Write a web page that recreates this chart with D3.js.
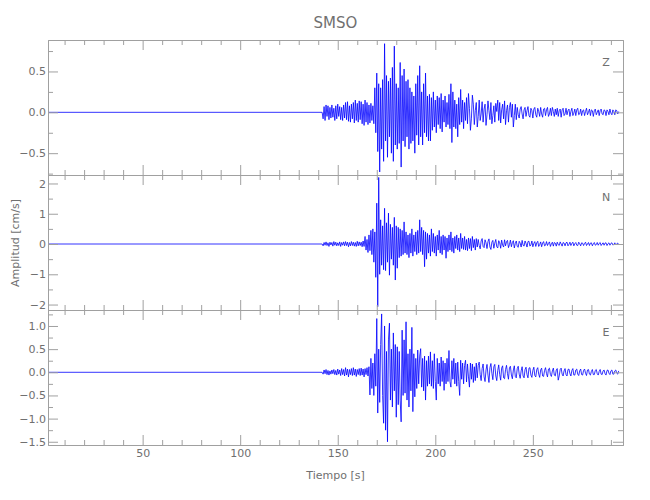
<!DOCTYPE html>
<html><head><meta charset="utf-8">
<script src="https://cdn.jsdelivr.net/npm/d3@7"></script>
<style>body{margin:0;background:#fff} text{font-family:"DejaVu Sans",sans-serif}</style>
</head><body><svg id="chart" width="650" height="500"></svg>
<script>
// ---------------- data ----------------
const chartTitle = "SMSO";
const xTitle = "Tiempo [s]";
const yTitle = "Amplitud [cm/s]";
const componentNames = ["Z", "N", "E"];
const recordStart = 1.5, recordEnd = 296.2;
const sampleStart = 142, sampleStep = 0.5;   // s
const preEventLevel = 0;

const xMajorTicks = [50, 100, 150, 200, 250];
const xMinorTicks = [10, 20, 30, 40, 60, 70, 80, 90, 110, 120, 130, 140, 160, 170, 180, 190, 210, 220, 230, 240, 260, 270, 280, 290];

const zDomain = [-0.767, 0.885];
const zMajorTicks = [-0.5, 0, 0.5];
const zTickLabels = ["\u22120.5", "0.0", "0.5"];
const zMinorTicks = [-0.75, -0.25, 0.25, 0.75];

const nDomain = [-2.18, 2.28];
const nMajorTicks = [-2, -1, 0, 1, 2];
const nTickLabels = ["\u22122", "\u22121", "0", "1", "2"];
const nMinorTicks = [-1.5, -0.5, 0.5, 1.5];

const eDomain = [-1.57, 1.345];
const eMajorTicks = [-1.5, -1, -0.5, 0, 0.5, 1];
const eTickLabels = ["\u22121.5", "\u22121.0", "\u22120.5", "0.0", "0.5", "1.0"];
const eMinorTicks = [-1.25, -0.75, -0.25, 0.25, 0.75, 1.25];

// velocity samples (cm/s), every 0.5 s from 142 s
const zValues = [
 0.00,-0.08,0.07,-0.10,0.09,-0.05,0.08,-0.09,0.06,-0.07,
 0.09,-0.06,0.05,-0.10,0.08,-0.08,0.10,-0.05,0.07,-0.09,
 0.06,-0.10,0.09,-0.07,0.12,-0.09,0.13,-0.11,0.08,-0.12,
 0.10,-0.08,0.12,-0.13,0.15,-0.10,0.11,-0.12,0.14,-0.09,
 0.13,-0.14,0.10,-0.16,0.15,-0.12,0.12,-0.15,0.09,-0.13,
 0.11,-0.10,0.08,-0.14,0.30,-0.25,0.48,-0.48,0.35,-0.73,
 0.30,-0.45,0.40,-0.60,0.84,-0.35,0.45,-0.55,0.38,-0.30,
 0.42,-0.50,0.55,-0.60,0.81,-0.40,0.35,-0.45,0.30,-0.38,
 0.61,-0.67,0.45,-0.35,0.53,-0.42,0.38,-0.30,0.40,-0.45,
 0.30,-0.38,0.25,-0.35,0.20,-0.50,0.35,-0.28,0.45,-0.40,
 0.57,-0.30,0.25,-0.40,0.35,-0.25,0.48,-0.30,0.20,-0.35,
 0.22,-0.35,0.18,-0.22,0.25,-0.18,0.15,-0.25,0.20,-0.15,
 0.18,-0.20,0.23,-0.24,0.15,-0.12,0.20,-0.18,0.12,-0.15,
 0.22,-0.20,0.35,-0.37,0.25,-0.18,0.15,-0.20,0.10,-0.30,
 0.18,-0.15,0.28,-0.12,0.15,-0.20,0.12,-0.10,0.18,-0.14,
 0.23,0.05,-0.22,-0.08,0.21,0.10,-0.15,0.02,0.12,-0.18,
 -0.05,0.15,-0.10,-0.02,0.13,-0.12,0.04,0.10,-0.16,-0.03,
 0.14,0.02,-0.09,0.12,-0.14,-0.04,0.08,-0.12,0.11,0.01,
 0.15,-0.10,0.12,-0.13,0.03,0.10,-0.08,0.14,-0.15,0.02,
 0.09,-0.12,0.06,0.12,-0.06,0.10,-0.18,-0.04,0.10,-0.09,
 0.06,-0.03,-0.07,0.04,0.07,-0.02,-0.08,0.03,0.06,-0.05,
 0.02,0.07,-0.04,-0.06,0.05,0.02,-0.07,0.04,0.06,-0.03,
 -0.06,0.05,0.01,-0.05,0.06,-0.02,-0.06,0.04,0.05,-0.04,
 0.03,0.06,-0.05,-0.02,0.05,-0.04,0.06,0.01,-0.05,0.04,
 -0.03,0.05,-0.05,0.02,0.04,-0.06,0.03,0.05,-0.04,-0.02,
 0.05,-0.03,0.02,0.04,-0.05,0.01,0.05,-0.04,-0.01,0.04,
 -0.04,0.03,0.05,-0.03,-0.02,0.04,-0.04,0.02,0.03,-0.04,
 0.01,0.05,-0.03,0.00,0.04,-0.04,0.03,0.02,-0.05,0.02,
 0.04,-0.03,0.00,0.03,-0.04,0.02,0.04,-0.02,-0.03,0.03,
 0.02,-0.04,0.03,0.01,-0.03,0.04,-0.01,-0.03,0.03,0.01,
 -0.03,0.03,0.02,-0.02,0.01
];
const nValues = [
 0.00,-0.06,0.05,-0.04,0.07,-0.05,0.04,-0.08,0.06,-0.03,
 0.05,-0.07,0.08,-0.04,0.06,-0.06,0.04,-0.05,0.07,-0.08,
 0.05,-0.04,0.07,-0.06,0.08,-0.05,0.06,-0.09,0.05,-0.06,
 0.08,-0.05,0.06,-0.07,0.05,-0.08,0.09,-0.06,0.07,-0.05,
 0.06,-0.09,0.10,-0.08,0.25,-0.20,0.15,-0.28,0.30,-0.22,
 0.45,-0.35,0.50,-0.60,0.40,-1.10,1.35,-2.07,2.20,-1.00,
 0.80,-0.70,0.60,-0.85,1.18,-0.88,0.70,-0.60,1.02,-1.03,
 0.65,-0.50,0.55,-0.70,0.88,-1.19,0.60,-0.80,0.55,-0.45,
 0.50,-0.40,0.45,-0.35,0.73,-0.30,0.40,-0.35,0.30,-0.45,
 0.35,-0.30,0.50,-0.40,0.30,-0.25,0.40,-0.35,0.45,-0.30,
 0.80,-0.25,0.55,-0.35,0.45,-0.75,0.40,-0.50,0.35,-0.30,
 0.30,-0.40,0.50,-0.25,0.35,-0.30,0.25,-0.40,0.30,-0.20,
 0.45,-0.30,0.25,-0.35,0.30,-0.20,0.25,-0.47,0.20,-0.25,
 0.30,-0.20,0.40,-0.25,0.20,-0.30,0.25,-0.15,0.30,-0.20,
 0.20,-0.25,0.35,-0.15,0.20,-0.18,0.25,-0.20,0.15,-0.22,
 0.20,-0.15,0.18,-0.22,0.25,-0.12,0.15,-0.20,0.18,-0.10,
 0.15,-0.05,-0.16,0.10,0.18,-0.08,-0.12,0.14,0.04,-0.15,
 0.08,0.17,-0.10,-0.18,0.06,0.12,-0.14,0.03,0.15,-0.09,
 -0.13,0.11,0.04,-0.14,0.13,-0.03,-0.10,0.14,-0.06,0.08,
 0.12,-0.12,-0.02,0.13,-0.09,0.05,0.11,-0.13,0.02,0.10,
 -0.08,-0.11,0.09,0.03,-0.10,0.12,-0.04,-0.07,0.10,0.02,
 -0.10,0.08,0.09,-0.07,-0.03,0.10,-0.09,0.02,0.08,-0.08,
 0.04,0.09,-0.08,-0.02,0.07,-0.09,0.03,0.08,-0.06,-0.04,
 0.08,-0.05,0.02,0.07,-0.08,0.01,0.06,-0.07,0.05,0.03,
 -0.07,0.06,-0.02,-0.05,0.07,0.00,-0.07,0.05,0.03,-0.06,
 0.04,0.06,-0.06,-0.01,0.06,-0.05,0.02,0.06,-0.06,0.01,
 0.05,-0.04,-0.05,0.06,0.01,-0.06,0.04,0.03,-0.05,0.02,
 0.06,-0.05,0.00,0.05,-0.05,0.03,0.04,-0.06,0.01,0.05,
 -0.04,-0.02,0.05,-0.04,0.02,0.05,-0.05,0.00,0.04,-0.04,
 0.03,0.04,-0.05,0.01,0.04,-0.04,0.02,0.04,-0.03,-0.02,
 0.04,-0.03,0.01,0.03,-0.02
];
const eValues = [
 0.00,-0.04,0.05,-0.03,0.06,-0.05,0.04,-0.06,0.03,-0.04,
 0.05,-0.03,0.06,-0.05,0.04,-0.06,0.07,-0.04,0.05,-0.07,
 0.08,-0.05,0.06,-0.08,0.10,-0.06,0.07,-0.10,0.06,-0.05,
 0.08,-0.07,0.10,-0.06,0.07,-0.09,0.06,-0.05,0.08,-0.07,
 0.09,-0.06,0.07,-0.10,0.08,-0.05,0.10,-0.08,0.12,-0.49,
 0.30,-0.35,0.20,-0.50,0.40,-0.30,1.16,-0.88,0.50,-0.65,
 0.60,1.26,-0.50,-1.10,1.00,-1.25,0.45,-1.50,0.70,1.06,
 -0.60,0.50,-0.75,0.85,-0.40,0.60,-0.97,0.55,-0.70,0.45,
 -0.60,-1.07,0.91,-0.50,0.70,-0.45,1.09,-0.60,0.40,-0.75,
 0.50,-0.40,0.97,-0.85,0.40,-0.53,0.30,-0.35,0.48,-0.25,
 0.35,0.51,-0.32,0.30,-0.40,0.35,-0.60,0.25,-0.30,0.35,
 -0.25,0.44,-0.30,0.25,-0.35,0.40,-0.20,-0.60,0.30,-0.25,
 0.20,-0.30,0.33,-0.20,0.25,-0.39,0.20,-0.25,0.30,-0.20,
 0.47,-0.20,-0.32,0.25,-0.15,0.30,-0.25,0.20,-0.30,0.22,
 -0.20,-0.50,0.26,-0.15,0.20,-0.25,0.15,0.26,-0.21,0.18,
 -0.10,-0.32,0.20,-0.15,0.18,-0.22,0.12,-0.18,0.20,-0.12,
 0.15,0.22,-0.05,-0.18,0.08,0.18,-0.10,-0.20,0.05,0.17,
 -0.06,-0.22,0.10,0.19,-0.02,-0.16,0.12,0.17,-0.08,-0.18,
 0.04,0.16,-0.05,-0.17,0.09,0.14,-0.12,-0.14,0.06,0.15,
 -0.03,-0.15,0.10,0.13,-0.06,-0.14,0.05,0.14,-0.09,-0.12,
 0.08,0.13,-0.04,-0.13,0.03,0.12,-0.08,-0.12,0.06,0.11,
 -0.05,-0.12,0.09,0.10,-0.06,-0.11,0.04,0.11,-0.07,-0.10,
 0.06,0.10,-0.04,-0.11,0.05,0.09,-0.08,-0.09,0.04,0.10,
 -0.03,-0.10,0.07,0.09,-0.05,-0.09,0.03,0.09,-0.06,-0.08,
 0.05,0.08,-0.17,-0.08,0.06,0.09,-0.04,-0.08,0.03,0.08,
 -0.05,-0.08,0.06,0.07,-0.03,-0.08,0.04,0.08,-0.06,-0.06,
 0.05,0.07,-0.04,-0.07,0.03,0.07,-0.05,-0.06,0.04,0.07,
 -0.02,-0.07,0.05,0.06,-0.04,-0.06,0.02,0.06,-0.05,-0.05,
 0.04,0.06,-0.03,-0.06,0.02,0.06,-0.04,-0.05,0.03,0.05,
 -0.03,-0.06,0.04,0.05,-0.02,-0.05,0.03,0.05,-0.04,-0.04,
 0.03,0.05,-0.02,-0.04,0.03
];

// ---------------- layout ----------------
const W = 650, H = 500;
const plotLeft = 48, plotRight = 623;
const panelTops = [40, 175, 310], panelH = 135;
const axisColor = "#a0a0a0", textColor = "#707070", traceColor = "#0000ff";

const svg = d3.select("#chart");
svg.append("rect").attr("width", W).attr("height", H).attr("fill", "#fff");

const x = d3.scaleLinear().domain([recordStart, recordEnd]).range([plotLeft, plotRight]);

const panels = [
  {name: componentNames[0], values: zValues, domain: zDomain, major: zMajorTicks, labels: zTickLabels, minor: zMinorTicks},
  {name: componentNames[1], values: nValues, domain: nDomain, major: nMajorTicks, labels: nTickLabels, minor: nMinorTicks},
  {name: componentNames[2], values: eValues, domain: eDomain, major: eMajorTicks, labels: eTickLabels, minor: eMinorTicks}
];

function styleAxis(g) {
  g.select(".domain").attr("stroke", axisColor).attr("stroke-width", 1);
  g.selectAll(".tick line").attr("stroke", axisColor).attr("stroke-width", 1);
  g.selectAll(".tick text").attr("fill", textColor).attr("font-size", 11)
    .attr("font-family", "'DejaVu Sans', sans-serif");
}

panels.forEach((p, i) => {
  const top = panelTops[i], bottom = top + panelH;
  const y = d3.scaleLinear().domain(p.domain).range([bottom, top]);

  // trace
  const pts = [[recordStart, preEventLevel]];
  p.values.forEach((v, k) => pts.push([sampleStart + k * sampleStep, v]));
  svg.append("path")
    .attr("d", d3.line().x(d => x(d[0])).y(d => y(d[1]))(pts))
    .attr("fill", "none").attr("stroke", traceColor).attr("stroke-width", 0.8);

  // y axes (left with labels, right plain)
  const labelFor = d3.scaleOrdinal().domain(p.major).range(p.labels);
  const gl = svg.append("g").attr("transform", `translate(${plotLeft},0)`)
    .call(d3.axisLeft(y).tickValues(p.major).tickSizeInner(-10).tickSizeOuter(0)
      .tickPadding(2).tickFormat(d => labelFor(d)));
  styleAxis(gl);
  const glm = svg.append("g").attr("transform", `translate(${plotLeft},0)`)
    .call(d3.axisLeft(y).tickValues(p.minor).tickSizeInner(-5).tickSizeOuter(0).tickFormat(""));
  styleAxis(glm);
  const gr = svg.append("g").attr("transform", `translate(${plotRight},0)`)
    .call(d3.axisRight(y).tickValues(p.major).tickSizeInner(-10).tickSizeOuter(0).tickFormat(""));
  styleAxis(gr);
  const grm = svg.append("g").attr("transform", `translate(${plotRight},0)`)
    .call(d3.axisRight(y).tickValues(p.minor).tickSizeInner(-5).tickSizeOuter(0).tickFormat(""));
  styleAxis(grm);

  // top x ticks
  const gt = svg.append("g").attr("transform", `translate(0,${top})`)
    .call(d3.axisTop(x).tickValues(xMajorTicks).tickSizeInner(-10).tickSizeOuter(0).tickFormat(""));
  styleAxis(gt);
  const gtm = svg.append("g").attr("transform", `translate(0,${top})`)
    .call(d3.axisTop(x).tickValues(xMinorTicks).tickSizeInner(-5).tickSizeOuter(0).tickFormat(""));
  styleAxis(gtm);
  // bottom x ticks
  const isLast = i === panels.length - 1;
  const gb = svg.append("g").attr("transform", `translate(0,${bottom})`)
    .call(d3.axisBottom(x).tickValues(xMajorTicks).tickSizeInner(-10).tickSizeOuter(0)
      .tickPadding(4).tickFormat(isLast ? d3.format("d") : ""));
  styleAxis(gb);
  const gbm = svg.append("g").attr("transform", `translate(0,${bottom})`)
    .call(d3.axisBottom(x).tickValues(xMinorTicks).tickSizeInner(-5).tickSizeOuter(0).tickFormat(""));
  styleAxis(gbm);

  // component letter
  svg.append("text").attr("x", 606).attr("y", top + 26)
    .attr("text-anchor", "middle").attr("font-size", 11).attr("fill", textColor)
    .text(p.name);
});

// titles
svg.append("text").attr("x", (plotLeft + plotRight) / 2).attr("y", 28)
  .attr("text-anchor", "middle").attr("font-size", 15).attr("fill", textColor).text(chartTitle);
svg.append("text").attr("x", (plotLeft + plotRight) / 2).attr("y", 479)
  .attr("text-anchor", "middle").attr("font-size", 11).attr("fill", textColor).text(xTitle);
svg.append("text").attr("transform", "translate(19,243) rotate(-90)")
  .attr("text-anchor", "middle").attr("font-size", 11).attr("fill", textColor).text(yTitle);
</script>
</body></html>
